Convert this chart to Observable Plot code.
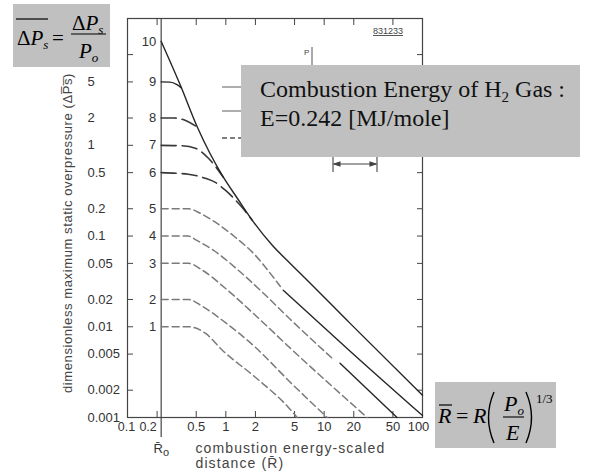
<!DOCTYPE html>
<html><head><meta charset="utf-8">
<script src="https://cdn.jsdelivr.net/npm/d3@7"></script>
<script src="https://cdn.jsdelivr.net/npm/@observablehq/plot@0.6"></script>
<style>
html,body{margin:0;padding:0;background:#fff;}
#wrap{position:relative;width:595px;height:471px;overflow:hidden;background:#fff;}
#overlay{position:absolute;left:0;top:0;pointer-events:none;}
</style></head><body>
<div id="wrap"></div>
<script>
// ---- data ----
const R0 = 0.22;                       // scaled charge radius (inner axis)
const curveNames = ["1","2","3","4","5","6","7","8","9","10"];
const curveStartP = [0.01, 0.02, 0.05, 0.1, 0.2, 0.5, 1, 2, 5, 14];

const c1R = [0.22, 0.416, 0.619, 0.9215, 1.993, 4.31, 5.32];
const c1P = [0.01, 0.01, 0.00849, 0.00551, 0.00278, 0.0013, 0.001];
const c2R = [0.22, 0.416, 0.577, 0.9215, 1.993, 4.517, 10.73];
const c2P = [0.02, 0.02, 0.0168, 0.0118, 0.00595, 0.00245, 0.001];
const c3R = [0.22, 0.416, 0.577, 0.988, 1.993, 4.517, 27.33];
const c3P = [0.05, 0.05, 0.042, 0.0266, 0.0134, 0.00582, 0.001];
const c4R = [0.22, 0.416, 0.502, 0.7465, 1.339, 2.24, 4.517, 12.34, 14.5, 55.1];
const c4P = [0.1, 0.1, 0.09, 0.0698, 0.042, 0.0253, 0.0121, 0.00439, 0.00397, 0.001];
const c5R = [0.22, 0.416, 0.551, 0.782, 1.248, 1.993, 2.83, 3.58, 3.834, 6.414, 18.37, 100];
const c5P = [0.2, 0.2, 0.178, 0.142, 0.097, 0.0614, 0.0388, 0.0279, 0.0253, 0.0152, 0.00538, 0.00105];
const c6R = [0.22, 0.416, 0.619, 0.782, 0.988, 1.403, 1.858];
const c6P = [0.5, 0.48, 0.433, 0.39, 0.32, 0.218, 0.149];
const c7R = [0.22, 0.345, 0.49, 0.665, 0.943];
const c7P = [1, 0.99, 0.928, 0.72, 0.445];
const c8R = [0.22, 0.30, 0.39, 0.514];
const c8P = [2, 2, 1.88, 1.58];
const c9R = [0.22, 0.27, 0.315, 0.353];
const c9P = [5, 4.97, 4.7, 4.3];
const c10R = [0.22, 0.345, 0.514, 0.943, 1.309, 1.858, 2.966, 4.517, 6.414, 18.37, 100];
const c10P = [14, 4.59, 1.58, 0.445, 0.261, 0.149, 0.079, 0.0499, 0.0343, 0.0109, 0.00176];

const curveStyle = ["short","short","short","short","short","long","long","long","solid","solid"];
const solidFromR = {"4": 14.5, "5": 3.8};   // far-field part drawn solid

const yTicks = [10, 5, 2, 1, 0.5, 0.2, 0.1, 0.05, 0.02, 0.01, 0.005, 0.002, 0.001];
const yTickLabels = ["5","2","1","0.5","0.2","0.1","0.05","0.02","0.01","0.005","0.002","0.001"];
const xTicks = [0.2, 0.5, 1, 2, 5, 10, 20, 50];
const xTickLabels = ["0.5","1","2","5","10","20","50"];

// ---- build table ----
const curveR = [c1R,c2R,c3R,c4R,c5R,c6R,c7R,c8R,c9R,c10R];
const curveP = [c1P,c2P,c3P,c4P,c5P,c6P,c7P,c8P,c9P,c10P];
const rows = [];
curveNames.forEach((name, ci) => {
  curveR[ci].forEach((r, i) => {
    let seg = curveStyle[ci];
    if (solidFromR[name] !== undefined && r >= solidFromR[name]) seg = "solid";
    rows.push({curve: name, seg, key: name + "-" + seg, R: r, P: curveP[ci][i]});
  });
});
const labelRows = curveNames.map((n, i) => ({name: n, R: R0, P: curveStartP[i]}));

const chart = Plot.plot({
  width: 595, height: 471,
  marginLeft: 127, marginRight: 173, marginTop: 18, marginBottom: 54,
  x: {type: "log", domain: [0.1, 100], axis: null},
  y: {type: "log", domain: [0.001, 25], axis: null},
  style: {fontFamily: "Liberation Sans, Arial, sans-serif", fontSize: "13px", color: "#333", background: "#fff"},
  marks: [
    Plot.frame({stroke: "#444", strokeWidth: 1.2}),
    // inward ticks
    Plot.axisY(yTicks, {anchor: "left", tickSize: 6, dx: 6, fill: "none", stroke: "#444"}),
    Plot.axisY(yTicks, {anchor: "right", tickSize: 6, dx: -6, fill: "none", stroke: "#444"}),
    Plot.axisX(xTicks, {anchor: "top", tickSize: 6, dy: 6, fill: "none", stroke: "#444"}),
    Plot.axisX(xTicks, {anchor: "bottom", tickSize: 6, dy: -6, fill: "none", stroke: "#444"}),
    // y tick labels (left-aligned, as in the figure)
    Plot.text(yTickLabels, {y: d => +d, frameAnchor: "left", dx: -40, textAnchor: "start", text: d => d, fill: "#333"}),
    // x tick labels
    Plot.text(xTickLabels, {x: d => +d, frameAnchor: "bottom", dy: 13, text: d => d, fill: "#333"}),
    Plot.text(["0.1"], {x: d => +d, frameAnchor: "bottom", dy: 13, dx: -1, text: d => d, fill: "#333", fontSize: 12.5}),
    Plot.text(["0.2"], {x: d => +d, frameAnchor: "bottom", dy: 13, dx: -9, text: d => d, fill: "#333", fontSize: 12.5}),
    Plot.text(["100"], {x: d => +d, frameAnchor: "bottom", dy: 13, dx: -4, text: d => d, fill: "#333"}),
    // inner R0 axis
    Plot.ruleX([R0], {stroke: "#444", strokeWidth: 1.2, insetBottom: -20}),
    // curves
    Plot.line(rows.filter(d => d.seg === "short"), {x: "R", y: "P", z: "key", stroke: "#7a7a7a", strokeWidth: 1.5,
      strokeDasharray: "7,4", curve: "monotone-x"}),
    Plot.line(rows.filter(d => d.seg === "long"), {x: "R", y: "P", z: "key", stroke: "#383838", strokeWidth: 1.6,
      strokeDasharray: "15,6", curve: "monotone-x"}),
    Plot.line(rows.filter(d => d.seg === "solid"), {x: "R", y: "P", z: "key", stroke: "#262626", strokeWidth: 1.4,
      curve: "monotone-x"}),
    // curve labels
    Plot.text(labelRows, {x: "R", y: "P", text: "name", textAnchor: "end", dx: -5, fill: "#333"}),
    // R0 label
    Plot.text([R0], {x: d => d, frameAnchor: "bottom", dy: 35, dx: -3, text: () => "R\u0304", fill: "#333"}),
    Plot.text([R0], {x: d => d, frameAnchor: "bottom", dy: 38, dx: 5, text: () => "o", fontSize: 11, fill: "#333"}),
    // axis titles
    Plot.text(["dimensionless maximum static overpressure (\u0394P\u0305s\u0305)"], {frameAnchor: "left", rotate: -90,
      textAnchor: "middle", dx: -60, dy: 15, text: d => d, fill: "#444", className: "ytitle"}),
    Plot.text(["combustion energy-scaled\ndistance (R\u0304)"], {frameAnchor: "bottom-left", dx: 68, dy: 25,
      lineAnchor: "top", textAnchor: "start", lineHeight: 1.07, fontSize: 14, text: d => d, fill: "#444", className: "xtitle"})
  ]
});
document.getElementById("wrap").appendChild(chart);
d3.select(chart).selectAll(".ytitle text").style("letter-spacing", "0.6px");
d3.select(chart).selectAll(".xtitle text").style("letter-spacing", "1.1px");

// ---- annotation overlay (boxes copied from the figure) ----
const ov = `
<svg id="overlay" width="595" height="471" xmlns="http://www.w3.org/2000/svg">
 <g font-family="Liberation Sans, Arial, sans-serif" fill="#444">
  <text x="373" y="34" font-size="9" text-decoration="underline">831233</text>
  <text x="304" y="55" font-size="8">P</text>
 </g>
 <line x1="312" x2="312" y1="47" y2="65" stroke="#555" stroke-width="1"/>
 <line x1="222" x2="241" y1="87" y2="87" stroke="#9a9a9a" stroke-width="1.6"/>
 <line x1="222" x2="241" y1="111" y2="111" stroke="#9a9a9a" stroke-width="1.6"/>
 <line x1="222" x2="241" y1="138" y2="138" stroke="#555" stroke-width="1.4" stroke-dasharray="5,3"/>
 <g stroke="#444" stroke-width="1.1" fill="#444">
  <line x1="333" x2="333" y1="157" y2="172"/>
  <line x1="377" x2="377" y1="157" y2="172"/>
  <line x1="334" x2="376" y1="164" y2="164"/>
  <path d="M334,164 l6,-2 v4 z"/>
  <path d="M376,164 l-6,-2 v4 z"/>
 </g>
 <rect x="13" y="4" width="97" height="63" fill="#c0c0c0"/>
 <g font-family="Liberation Serif, Times New Roman, serif" font-size="21" fill="#000">
  <text x="17" y="45">\u0394<tspan font-style="italic">P</tspan><tspan font-style="italic" font-size="13" dy="4">s</tspan></text>
  <line x1="16" x2="48" y1="19" y2="19" stroke="#000" stroke-width="1.2"/>
  <text x="52" y="45">=</text>
  <text x="72" y="30">\u0394<tspan font-style="italic">P</tspan><tspan font-style="italic" font-size="13" dy="4">s</tspan></text>
  <line x1="71" x2="106" y1="34" y2="34" stroke="#000" stroke-width="1.2"/>
  <text x="79" y="58" font-style="italic">P<tspan font-size="13" dy="4">o</tspan></text>
 </g>
 <rect x="241" y="65" width="339" height="92" fill="#c0c0c0"/>
 <g font-family="Liberation Serif, Times New Roman, serif" font-size="24" fill="#111">
  <text x="260" y="97">Combustion Energy of H<tspan font-size="15" dy="5">2</tspan><tspan dy="-5"> Gas :</tspan></text>
  <text x="260" y="126">E=0.242 [MJ/mole]</text>
 </g>
 <rect x="435" y="382" width="121" height="66" fill="#c0c0c0"/>
 <g font-family="Liberation Serif, Times New Roman, serif" font-size="22" fill="#000">
  <text x="438" y="423" font-style="italic">R</text>
  <line x1="439" x2="452" y1="405" y2="405" stroke="#000" stroke-width="1.2"/>
  <text x="456" y="423">=</text>
  <text x="473" y="423" font-style="italic">R</text>
  <path d="M494,392 Q483,417.5 494,443" fill="none" stroke="#000" stroke-width="1.4"/>
  <text x="504" y="411" font-style="italic">P<tspan font-size="13" dy="4">o</tspan></text>
  <line x1="503" x2="524" y1="417" y2="417" stroke="#000" stroke-width="1.1"/>
  <text x="506" y="440" font-style="italic">E</text>
  <path d="M526,392 Q537,417.5 526,443" fill="none" stroke="#000" stroke-width="1.4"/>
  <text x="536" y="403" font-size="13">1/3</text>
 </g>
</svg>`;
document.getElementById("wrap").insertAdjacentHTML("beforeend", ov);
</script>
</body></html>
